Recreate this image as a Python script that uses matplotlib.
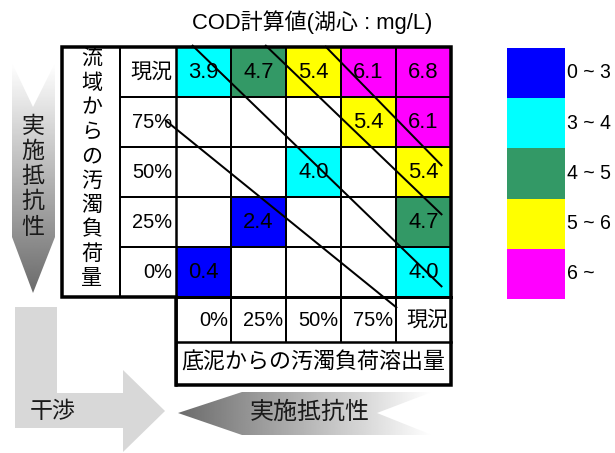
import matplotlib
matplotlib.use('Agg')
import matplotlib.pyplot as plt
import numpy as np
from matplotlib.patches import Rectangle, Polygon

plt.rcParams['font.family'] = ['Liberation Sans', 'Noto Sans CJK JP', 'DejaVu Sans']

# ---------------- data ----------------
title = "COD計算値(湖心 : mg/L)"
row_labels = ["現況", "75%", "50%", "25%", "0%"]      # 流域からの汚濁負荷量 (top -> bottom)
col_labels = ["0%", "25%", "50%", "75%", "現況"]      # 底泥からの汚濁負荷溶出量 (left -> right)
row_現況 = [3.9, 4.7, 5.4, 6.1, 6.8]
row_75 = [None, None, None, 5.4, 6.1]
row_50 = [None, None, 4.0, None, 5.4]
row_25 = [None, 2.4, None, None, 4.7]
row_0 = [0.4, None, None, None, 4.0]
values = [row_現況, row_75, row_50, row_25, row_0]

class_bounds = [0, 3, 4, 5, 6]
class_labels = ["0 ~ 3", "3 ~ 4", "4 ~ 5", "5 ~ 6", "6 ~"]
class_colors = ["#0000FF", "#00FFFF", "#339966", "#FFFF00", "#FF00FF"]

y_axis_label = "流域からの汚濁負荷量"
x_axis_label = "底泥からの汚濁負荷溶出量"
arrow_label_v = "実施抵抗性"
arrow_label_h = "実施抵抗性"
interference_label = "干渉"

# iso-lines, in cell units (column, row)
iso_start = [(0.29, -0.04), (1.62, -0.04), (2.71, -0.02), (-0.20, 1.46)]
iso_end = [(4.84, 4.80), (4.84, 3.36), (4.84, 2.38), (4.02, 5.22)]

# ---------------- figure ----------------
fig = plt.figure(figsize=(615 / 72, 453 / 72), dpi=72)
ax = fig.add_axes([0, 0, 1, 1])
ax.set_xlim(0, 615)
ax.set_ylim(453, 0)
ax.axis('off')

X0, Y0, CW, RH = 176, 47, 55, 50
LX0, LX1 = 62, 120


def cx(c):
    return X0 + c * CW


def cy(r):
    return Y0 + r * RH


def color_for(v):
    idx = int(np.searchsorted(class_bounds, v, side='left')) - 1
    return class_colors[max(idx, 0)]


# cells
for r, rowvals in enumerate(values):
    for c, v in enumerate(rowvals):
        if v is None:
            continue
        ax.add_patch(Rectangle((cx(c), cy(r)), CW, RH, facecolor=color_for(v),
                               edgecolor='none', zorder=1))
        ax.text(cx(c + 0.5), cy(r + 0.5), f"{v:.1f}", ha='center', va='center',
                fontsize=22, color='black', zorder=2)

# iso lines
for (c0, r0), (c1, r1) in zip(iso_start, iso_end):
    ax.plot([cx(c0), cx(c1)], [cy(r0), cy(r1)], color='black', lw=2, zorder=3,
            solid_capstyle='butt')

# grid lines
nrow = len(row_labels)
ncol = len(col_labels)
for r in range(1, nrow):
    ax.plot([LX1, cx(ncol)], [cy(r), cy(r)], color='black', lw=2, zorder=4)
ax.plot([LX1, LX1], [cy(0), cy(nrow)], color='black', lw=2, zorder=4)
for c in range(1, ncol):
    ax.plot([cx(c), cx(c)], [cy(0), 342], color='black', lw=2, zorder=4)
ax.plot([cx(0), cx(0)], [cy(0), 385], color='black', lw=2.5, zorder=4)
ax.plot([cx(0), cx(ncol)], [cy(nrow), cy(nrow)], color='black', lw=3, zorder=4)
ax.plot([cx(0), cx(ncol)], [342, 342], color='black', lw=2.5, zorder=4)
outer = Polygon([(LX0, cy(0)), (cx(ncol), cy(0)), (cx(ncol), 385), (cx(0), 385),
                 (cx(0), cy(nrow)), (LX0, cy(nrow))], closed=True, fill=False,
                edgecolor='black', lw=3.5, zorder=5, joinstyle='miter')
ax.add_patch(outer)

# labels
for r, lab in enumerate(row_labels):
    fs = 21 if lab == "現況" else 20
    ax.text(172, cy(r + 0.5), lab, ha='right', va='center', fontsize=fs, zorder=6)
for c, lab in enumerate(col_labels):
    fs = 21 if lab == "現況" else 20
    ax.text(cx(c + 1) - 3, 320, lab, ha='right', va='center', fontsize=fs, zorder=6)
for i, ch in enumerate(y_axis_label):
    ax.text((LX0 + LX1) / 2 + 1, 59 + i * 24.4, ch, ha='center', va='center',
            fontsize=21, zorder=6)
ax.text((cx(0) + cx(ncol)) / 2, 363, x_axis_label, ha='center', va='center',
        fontsize=22, zorder=6)
ax.text(312, 22, title, ha='center', va='center', fontsize=22)

# legend
for i, (lab, col) in enumerate(zip(class_labels, class_colors)):
    ax.add_patch(Rectangle((507, 48 + i * 50.2), 58, 50.2, facecolor=col,
                           edgecolor='none'))
    ax.text(567, 48 + i * 50.2 + 25, lab, ha='left', va='center', fontsize=19.5)


# gradient arrows
def gradient_poly(pts, direction, v0, v1, extent):
    poly = Polygon(pts, closed=True, facecolor='none', edgecolor='none')
    ax.add_patch(poly)
    grad = np.linspace(v0, v1, 256)
    if direction == 'v':
        img = grad[:, None]
    else:
        img = grad[None, :]
    im = ax.imshow(img, cmap='gray', vmin=0, vmax=1, extent=extent,
                   aspect='auto', origin='upper', zorder=0.5,
                   interpolation='bilinear')
    im.set_clip_path(poly)


# vertical (top white -> bottom gray)
vpts = [(12, 63), (33, 107), (55, 63), (55, 237), (33, 293), (12, 237)]
gradient_poly(vpts, 'v', 1.0, 0.42, (12, 55, 293, 63))
for i, ch in enumerate(arrow_label_v):
    ax.text(33, 126 + i * 25.3, ch, ha='center', va='center', fontsize=23,
            color='#1a1a1a', zorder=6)

# horizontal (left gray -> right white)
hpts = [(178, 413), (242, 392), (432, 392), (377, 413), (432, 435), (242, 435)]
gradient_poly(hpts, 'h', 0.42, 1.0, (178, 432, 435, 392))
ax.text(310, 413, arrow_label_h, ha='center', va='center', fontsize=24,
        color='#1a1a1a', zorder=6)

# L-shaped interference arrow
lpts = [(15, 307), (57, 307), (57, 393), (123, 393), (123, 370), (165, 411),
        (123, 452), (123, 428), (15, 428)]
ax.add_patch(Polygon(lpts, closed=True, facecolor='#d8d8d8', edgecolor='none',
                     zorder=0.5))
ax.text(53, 411, interference_label, ha='center', va='center', fontsize=23,
        color='#1a1a1a', zorder=6)

fig.savefig('out.png', dpi=72)
